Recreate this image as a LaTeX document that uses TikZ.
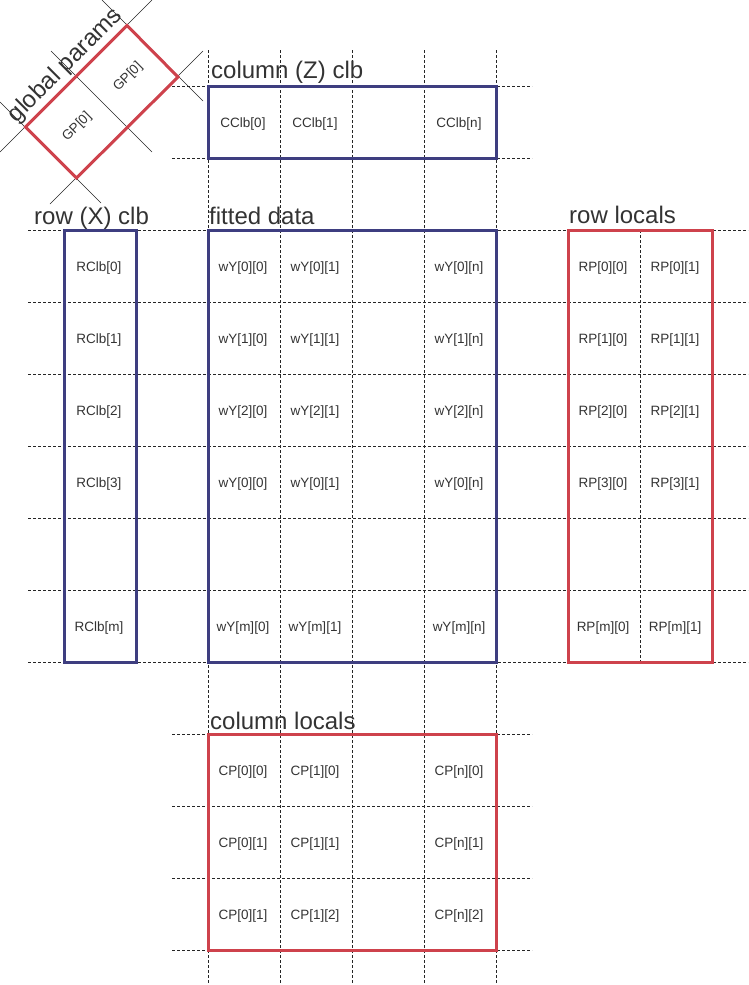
\documentclass[tikz,border=0pt]{standalone}
\usepackage{fontspec}
\setmainfont{Liberation Sans}
\definecolor{boxblue}{RGB}{62,62,128}
\definecolor{boxred}{RGB}{206,66,76}
\definecolor{txt}{RGB}{51,51,51}
\begin{document}
\begin{tikzpicture}[x=1pt,y=-1pt,
  grid/.style={draw=black!85,line width=0.8pt,dash pattern=on 3pt off 2pt},
  rgrid/.style={draw=black!85,line width=0.6pt},
  bluebox/.style={draw=boxblue,line width=3pt},
  redbox/.style={draw=boxred,line width=3pt},
  cell/.style={text=txt,font=\fontsize{13.5}{16}\selectfont,inner sep=0pt,yshift=-2pt},
  gpcell/.style={text=txt,font=\fontsize{13.5}{16}\selectfont,inner sep=0pt,rotate=45},
  title/.style={text=txt,font=\fontsize{24}{28}\selectfont,inner sep=0pt,anchor=base west}]
\useasboundingbox (0,0) rectangle (748,985);
% dashed grid
\foreach \x in {208,280,352,424,496} \draw[grid] (\x,50) -- (\x,985);
\foreach \y in {86,158,734,806,878,950} \draw[grid] (172,\y) -- (532,\y);
\foreach \y in {230,302,...,662} \draw[grid] (28,\y) -- (748,\y);
\draw[grid] (640,230) -- (640,662);
% rotated grid around global params
\draw[rgrid] (0,152) -- (152,0);
\draw[rgrid] (50,204) -- (203,51);
\draw[rgrid] (0,102) -- (101,203);
\draw[rgrid] (102,0) -- (203,101);
\draw[rgrid] (51,51) -- (152,152);
% boxes
\draw[bluebox] (208,86) rectangle (496,158);
\draw[bluebox] (64,230) rectangle (136,662);
\draw[bluebox] (208,230) rectangle (496,662);
\draw[redbox] (568,230) rectangle (712,662);
\draw[redbox] (208,734) rectangle (496,950);
\draw[redbox,line join=miter] (25.5,127) -- (127,25.5) -- (178,77) -- (76.5,178) -- cycle;
% titles
\node[title] (tcz) at (211,78) {column (Z) clb};
\node[title] (trx) at (34,224) {row (X) clb};
\node[title] (tfd) at (209,224) {fitted data};
\node[title] (trl) at (569,223) {row locals};
\node[title] (tcl) at (210,729) {column locals};
\node[title,anchor=base,rotate=45] (tgp) at (70,70) {global params};
% global params cells
\node[gpcell] (gp0) at (77,127) {GP[0]};
\node[gpcell] (gp1) at (128,77) {GP[0]};
% column clb
\node[cell] (cc0) at (243,122) {CClb[0]};
\node[cell] (cc1) at (315,122) {CClb[1]};
\node[cell] (ccn) at (459,122) {CClb[n]};
% row clb
\node[cell] (rc0) at (99,266) {RClb[0]};
\node[cell] (rc1) at (99,338) {RClb[1]};
\node[cell] (rc2) at (99,410) {RClb[2]};
\node[cell] (rc3) at (99,482) {RClb[3]};
\node[cell] (rcm) at (99,626) {RClb[m]};
% fitted data
\node[cell] (w00) at (243,266) {wY[0][0]};
\node[cell] (w01) at (315,266) {wY[0][1]};
\node[cell] (w0n) at (459,266) {wY[0][n]};
\node[cell] (w10) at (243,338) {wY[1][0]};
\node[cell] (w11) at (315,338) {wY[1][1]};
\node[cell] (w1n) at (459,338) {wY[1][n]};
\node[cell] (w20) at (243,410) {wY[2][0]};
\node[cell] (w21) at (315,410) {wY[2][1]};
\node[cell] (w2n) at (459,410) {wY[2][n]};
\node[cell] (w30) at (243,482) {wY[0][0]};
\node[cell] (w31) at (315,482) {wY[0][1]};
\node[cell] (w3n) at (459,482) {wY[0][n]};
\node[cell] (wm0) at (243,626) {wY[m][0]};
\node[cell] (wm1) at (315,626) {wY[m][1]};
\node[cell] (wmn) at (459,626) {wY[m][n]};
% row locals
\node[cell] (r00) at (603,266) {RP[0][0]};
\node[cell] (r01) at (675,266) {RP[0][1]};
\node[cell] (r10) at (603,338) {RP[1][0]};
\node[cell] (r11) at (675,338) {RP[1][1]};
\node[cell] (r20) at (603,410) {RP[2][0]};
\node[cell] (r21) at (675,410) {RP[2][1]};
\node[cell] (r30) at (603,482) {RP[3][0]};
\node[cell] (r31) at (675,482) {RP[3][1]};
\node[cell] (rm0) at (603,626) {RP[m][0]};
\node[cell] (rm1) at (675,626) {RP[m][1]};
% column locals
\node[cell] (c00) at (243,770) {CP[0][0]};
\node[cell] (c10) at (315,770) {CP[1][0]};
\node[cell] (cn0) at (459,770) {CP[n][0]};
\node[cell] (c01) at (243,842) {CP[0][1]};
\node[cell] (c11) at (315,842) {CP[1][1]};
\node[cell] (cn1) at (459,842) {CP[n][1]};
\node[cell] (c01b) at (243,914) {CP[0][1]};
\node[cell] (c12) at (315,914) {CP[1][2]};
\node[cell] (cn2) at (459,914) {CP[n][2]};
\end{tikzpicture}
\end{document}
